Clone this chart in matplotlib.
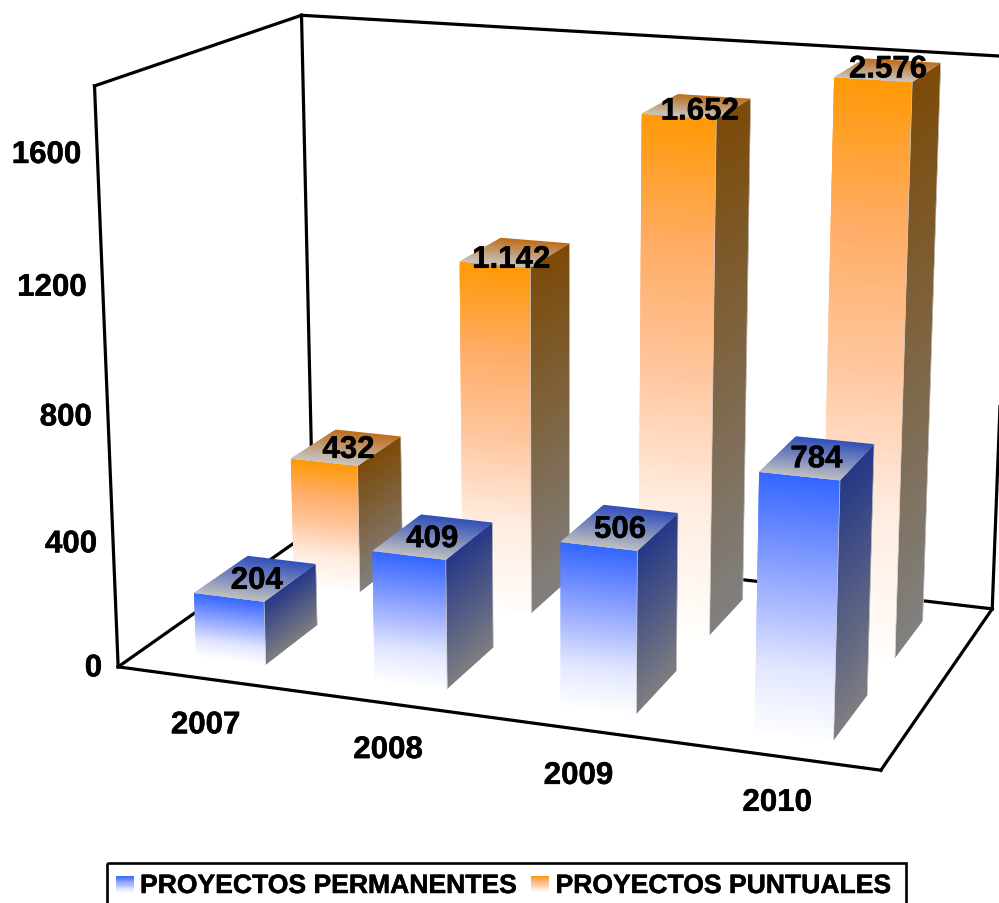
import numpy as np
import matplotlib
matplotlib.use('Agg')
import matplotlib.pyplot as plt
import matplotlib.patheffects as pe
from matplotlib.patches import Rectangle
from matplotlib.collections import PolyCollection

# ---- data ----
years = ['2007', '2008', '2009', '2010']
permanentes = [204, 409, 506, 784]
puntuales = [432, 1142, 1652, 2576]
labels_perm = ['204', '409', '506', '784']
labels_punt = ['432', '1.142', '1.652', '2.576']
z_ticks = [0, 400, 800, 1200, 1600]
z_max = 1800
legend_names = ['PROYECTOS PERMANENTES', 'PROYECTOS PUNTUALES']

# ---- colours: gradient stops evenly spaced from the first edge to the last ----
c = lambda r, g, b: (r / 255, g / 255, b / 255)
BLUE = dict(front=[c(51, 102, 255), c(112, 142, 255), c(170, 185, 255), c(226, 231, 255), c(253, 253, 255)],
            side=[c(38, 56, 135), c(126, 126, 128)],
            top=[c(48, 78, 185), c(192, 192, 192)])
ORANGE = dict(front=[c(255, 153, 5), c(255, 172, 100), c(255, 198, 158), c(255, 236, 224), c(255, 253, 251)],
              side=[c(124, 74, 8), c(128, 128, 128)],
              top=[c(190, 108, 25), c(198, 198, 198)])

# ---- perspective camera fitted on the visible corners of the box ----
corners = [((0, 0, 0), (118.5, 668)), ((4, 0, 0), (880.5, 771.5)), ((0, 1, 0), (312.9, 530.5)),
           ((4, 1, 0), (992.5, 609.5)), ((0, 0, 1), (94.5, 86.5)), ((0, 1, 1), (301.5, 16.5)),
           ((4, 1, 1), (1013.5, 58))]
A, b = [], []
for (x, d, z), (u, v) in corners:
    A.append([x, d, z, 1, 0, 0, 0, 0, -u * x, -u * d, -u * z]); b.append(u)
    A.append([0, 0, 0, 0, x, d, z, 1, -v * x, -v * d, -v * z]); b.append(v)
P = np.append(np.linalg.lstsq(np.array(A, float), np.array(b, float), rcond=None)[0], 1).reshape(3, 4)


def proj(x, d, z):
    h = P @ np.array([x, d, z / z_max, 1.0])
    return h[:2] / h[2]


fig = plt.figure(figsize=(9.99, 9.04), dpi=100)
ax = fig.add_axes([0, 0, 1, 1])
ax.set_xlim(0, 999)
ax.set_ylim(904, 0)
ax.axis('off')
plt.rcParams['font.family'] = ['Liberation Sans', 'DejaVu Sans']
FS = 22.5
HEAVY = [pe.withStroke(linewidth=0.35, foreground='black')]


def gradient_quad(tl, tr, br, bl, stops, zo, n=90):
    """Quad split in overlapping strips (painted in order so no seam shows)."""
    tl, tr, br, bl = map(np.asarray, (tl, tr, br, bl))
    stops = np.array(stops)
    pos = np.linspace(0, 1, len(stops))
    polys, colors = [], []
    for i in range(n):
        t0, t1 = i / n, min((i + 2.5) / n, 1)
        polys.append([tl + (bl - tl) * t0, tr + (br - tr) * t0, tr + (br - tr) * t1, tl + (bl - tl) * t1])
        tm = (i + 0.5) / n
        colors.append([np.interp(tm, pos, stops[:, k]) for k in range(3)])
    ax.add_collection(PolyCollection(polys, facecolors=colors, edgecolors='none', zorder=zo))


# ---- box ----
def seg(p, q, zo=1, lw=2.3):
    pts = np.array([proj(*p), proj(*q)])
    ax.plot(pts[:, 0], pts[:, 1], color='black', lw=lw, zorder=zo, solid_capstyle='projecting')


for p, q in [((0, 0, 0), (4, 0, 0)), ((0, 0, 0), (0, 1, 0)), ((0, 1, 0), (4, 1, 0)), ((4, 0, 0), (4, 1, 0)),
             ((0, 0, 0), (0, 0, z_max)), ((0, 1, 0), (0, 1, z_max)), ((4, 1, 0), (4, 1, z_max)),
             ((0, 0, z_max), (0, 1, z_max)), ((0, 1, z_max), (4, 1, z_max))]:
    seg(p, q)

# ---- bars ----
X0, X1 = 0.298, 0.693


def bar(i, value, d0, d1, style, label, zo, off):
    h = min(value, z_max)
    x0, x1 = i + X0, i + X1
    ftl, ftr, btl, btr = proj(x0, d0, h), proj(x1, d0, h), proj(x0, d1, h), proj(x1, d1, h)
    fbl, fbr, bbr = proj(x0, d0, 0), proj(x1, d0, 0), proj(x1, d1, 0)
    gradient_quad(ftr, btr, bbr, fbr, style['side'], zo)
    gradient_quad(ftl, ftr, fbr, fbl, style['front'], zo + 0.1)
    gradient_quad(btl, btr, ftr, ftl, style['top'], zo + 0.2, n=30)
    # thin pale highlight along the side-face edges
    ax.plot([ftr[0], fbr[0]], [ftr[1], fbr[1]], color='#c8c8c8', lw=0.5, zorder=zo + 0.3)
    ax.plot([btr[0], bbr[0]], [btr[1], bbr[1]], color='#d0d0d0', lw=0.5, zorder=zo + 0.3)
    cx, cy = proj((x0 + x1) / 2, (d0 + d1) / 2, h)
    ax.text(cx + off[0], cy + 2.5 + off[1], label, ha='center', va='center', fontsize=FS, fontweight='bold',
            color='black', zorder=50, path_effects=HEAVY)


offs_punt = [(2, 0), (-4, 5), (3, 3), (0, -3)]
offs_perm = [(1, 0), (-1, 0), (0, 0), (-1, -1)]
for i in range(len(years)):
    bar(i, puntuales[i], 0.62, 0.87, ORANGE, labels_punt[i], 5 + i, offs_punt[i])
for i in range(len(years)):
    bar(i, permanentes[i], 0.12, 0.385, BLUE, labels_perm[i], 15 + i, offs_perm[i])

# ---- axis labels ----
for t in z_ticks:
    x, y = proj(0, 0, t)
    ax.text(x - 16, y + 1.5, f'{t}', ha='right', va='center', fontsize=FS, fontweight='bold', path_effects=HEAVY)
for i, yr in enumerate(years):
    x, y = proj(i + 0.5, 0, 0)
    ax.text(x - 1, y + 46.5, yr, ha='center', va='center', fontsize=FS, fontweight='bold', path_effects=HEAVY)

# ---- legend ----
ax.add_patch(Rectangle((106.5, 863.5), 799, 60, fill=False, ec='black', lw=1.9, zorder=60))
for sx, name, style, tx in zip((116, 531), legend_names, (BLUE, ORANGE), (140, 555.5)):
    gradient_quad((sx, 877), (sx + 17.5, 877), (sx + 17.5, 894), (sx, 894), style['front'], 60, n=16)
    ax.text(tx, 887, name, ha='left', va='center', fontsize=19.1, fontweight='bold', zorder=61, path_effects=HEAVY)

fig.savefig('out.png', dpi=100)
